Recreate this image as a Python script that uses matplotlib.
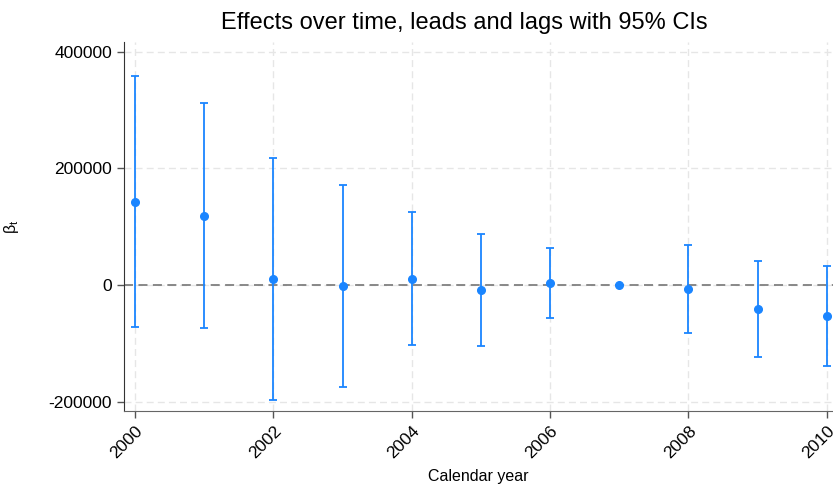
import matplotlib.pyplot as plt
import numpy as np

plt.rcParams['font.family'] = ['Liberation Sans', 'DejaVu Sans']

# event-study estimates
years = [2000, 2001, 2002, 2003, 2004, 2005, 2006, 2007, 2008, 2009, 2010]
beta = [143000, 118400, 10300, -1700, 10300, -8600, 4000, 0, -6900, -40600, -53700]
ci_lo = [-72600, -74300, -197800, -175500, -103400, -104600, -56000, 0, -81800, -123000, -139500]
ci_hi = [359000, 311700, 218400, 172000, 124700, 88000, 64000, 0, 68000, 41700, 32000]

xticks = [2000, 2002, 2004, 2006, 2008, 2010]
yticks = [-200000, 0, 200000, 400000]

blue = '#1a85ff'

fig = plt.figure(figsize=(8.33, 4.87), dpi=100)
ax = fig.add_axes([0.1489, 0.156, 0.8511, 0.758])

ax.axhline(0, color='#808080', lw=1.3, ls=(0, (5, 3)), zorder=1)

b = np.array(beta)
err = np.vstack([b - np.array(ci_lo), np.array(ci_hi) - b])
has_ci = err.sum(axis=0) > 0
yr = np.array(years)
ax.errorbar(yr[has_ci], b[has_ci], yerr=err[:, has_ci], fmt='none',
            ecolor=blue, elinewidth=1.3, capsize=3, capthick=1.3, zorder=2)
ax.plot(yr, b, 'o', color=blue, ms=5.5, zorder=3)

ax.set_xlim(1999.84, 2010.09)
ax.set_ylim(-216000, 417000)
ax.set_xticks(xticks)
ax.set_yticks(yticks)
ax.set_xticklabels([str(x) for x in xticks], rotation=45, ha='right',
                   rotation_mode='anchor', fontsize=12.5)
ax.set_yticklabels([str(y) for y in yticks], fontsize=12.5)
ax.grid(True, color='#e6e6e6', ls=(0, (5, 3)), lw=1.0)
ax.set_axisbelow(True)

for s in ['top', 'right']:
    ax.spines[s].set_visible(False)
ax.spines['left'].set_color('#333333')
ax.spines['bottom'].set_color('#666666')
ax.tick_params(length=5, width=1, color='#555555')

ax.set_title('Effects over time, leads and lags with 95% CIs', fontsize=17, pad=9, x=0.48)
ax.set_xlabel('Calendar year', fontsize=11.5, labelpad=6)
ax.set_ylabel(r'$\mathregular{\beta_t}$', fontsize=11.5, labelpad=20)

fig.savefig('out.png', dpi=100)
